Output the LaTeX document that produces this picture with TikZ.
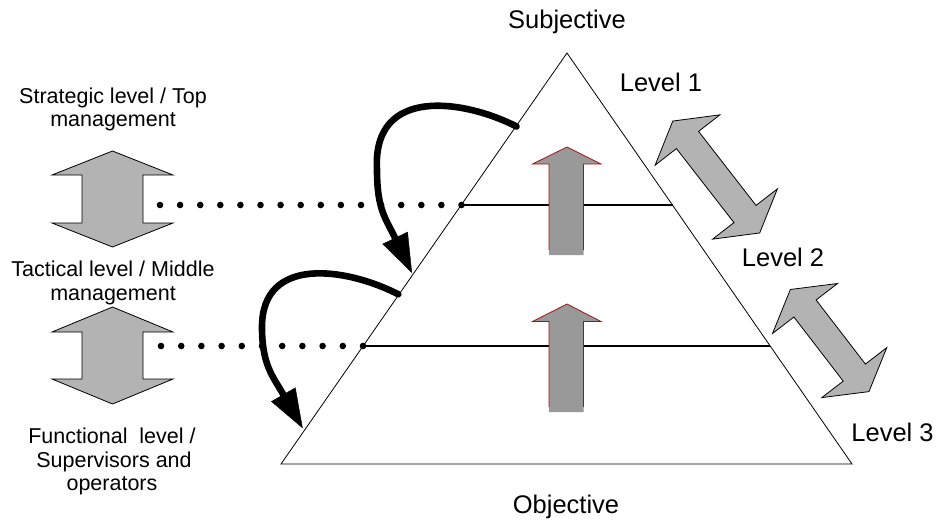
\documentclass[tikz,border=0pt]{standalone}
\usepackage{fontspec}
\setmainfont{Liberation Sans}
\usetikzlibrary{calc,arrows.meta}
\definecolor{lgray}{RGB}{179,179,179}
\definecolor{mgray}{RGB}{153,153,153}
\definecolor{dred}{RGB}{160,20,20}
\tikzset{
  lefttxt/.style={font=\fontsize{21.5}{24}\selectfont, anchor=base, inner sep=0pt},
  lvltxt/.style={font=\fontsize{25.5}{28}\selectfont, anchor=base, inner sep=0pt},
  tri/.style={draw=black, line width=0.8pt, line join=miter},
  hline/.style={draw=black, line width=1.3pt},
  dotmark/.style={fill=black},
  sidearrow/.style={fill=lgray, draw=black, line width=0.8pt, line join=miter},
  diagarrow/.style={fill=lgray, draw=black, line width=0.8pt, line join=miter},
  uparrowfill/.style={fill=mgray},
  uparrowline/.style={draw=dred, line width=0.8pt, line join=miter},
  curvearrow/.style={draw=black, line width=6.6pt, line cap=round,
    -{Triangle[length=39pt,width=28pt,line width=0.4pt]}}
}
\newcommand\mydiag[3]{% #1 = base 1, #2 = base 2, #3 = tip length
  \filldraw[diagarrow]
    ($(#1)!-#3!(#2)$) -- ($(#1)!41pt!90:(#2)$) -- ($(#1)!14pt!90:(#2)$)
    -- ($(#2)!14pt!-90:(#1)$) -- ($(#2)!41pt!-90:(#1)$) -- ($(#2)!-#3!(#1)$)
    -- ($(#2)!41pt!90:(#1)$) -- ($(#2)!14pt!90:(#1)$)
    -- ($(#1)!14pt!-90:(#2)$) -- ($(#1)!41pt!-90:(#2)$) -- cycle;}
\begin{document}
\begin{tikzpicture}[x=1pt,y=-1pt]
\useasboundingbox (0,0) rectangle (937,522);

% triangle corners and level lines
\coordinate (A) at (567,53);
\coordinate (BL) at (281,464);
\coordinate (BR) at (852,464);
\coordinate (L1) at (461.5,205);
\coordinate (R1) at (672.5,205);
\coordinate (L2) at (363,346);
\coordinate (R2) at (770,346);

\draw[tri] (A) -- (BL) -- (BR) -- cycle;
\draw[hline] (L1) -- (R1);
\draw[hline] (L2) -- (R2);

% dotted guides
\foreach \i in {0,...,15} \fill[dotmark] ({160+\i*20.1},205) circle (3.3);
\foreach \i in {0,...,10} \fill[dotmark] ({161+\i*20.2},346) circle (3.3);

% left double arrows
\filldraw[sidearrow] (112.5,151) -- (173,175) -- (143,175) -- (143,223) -- (173,223)
  -- (112.5,247) -- (52,223) -- (82,223) -- (82,175) -- (52,175) -- cycle;
\filldraw[sidearrow] (112.5,307) -- (173,332) -- (143,332) -- (143,379) -- (173,379)
  -- (112.5,404) -- (52,379) -- (82,379) -- (82,332) -- (52,332) -- cycle;

% central upward arrows
\fill[uparrowfill] (567,147) -- (601,164) -- (583.5,164) -- (583.5,255) -- (549,255)
  -- (549,164) -- (532.5,164) -- cycle;
\draw[uparrowline] (549,250) -- (549,164) -- (532.5,164) -- (567,147) -- (601,164)
  -- (583.5,164) -- (583.5,250);
\fill[uparrowfill] (567,304) -- (601,321.5) -- (583.5,321.5) -- (583.5,412) -- (549,412)
  -- (549,321.5) -- (532.5,321.5) -- cycle;
\draw[uparrowline] (549,407) -- (549,321.5) -- (532.5,321.5) -- (567,304) -- (601,321.5)
  -- (583.5,321.5) -- (583.5,407);

% diagonal double arrows
\coordinate (DA1) at (687.5,140);
\coordinate (DA2) at (745,214);
\coordinate (DB1) at (805,308.5);
\coordinate (DB2) at (854.3,372.6);
\mydiag{DA1}{DA2}{24pt}
\mydiag{DB1}{DB2}{24pt}

% curved black arrows
\coordinate (S1) at (516.5,126.5);
\coordinate (P1) at (377,170);
\coordinate (E1) at (412,273);
\draw[curvearrow] (S1) .. controls (465,100) and (372,85) .. (P1)
  .. controls (377,210) and (386,219) .. (E1);
\coordinate (S2) at (398.3,294.3);
\coordinate (P2) at (262,327);
\coordinate (E2) at (302.7,428.3);
\draw[curvearrow] (S2) .. controls (346.8,267.8) and (262,255) .. (P2)
  .. controls (262,365) and (272.7,376) .. (E2);

% labels
\node[lvltxt] (subj) at (567,28.5) {Subjective};
\node[lvltxt] (obj) at (566,513) {Objective};
\node[lvltxt] (lv1) at (661,91.5) {Level 1};
\node[lvltxt] (lv2) at (783,266.5) {Level 2};
\node[lvltxt] (lv3) at (892.5,441) {Level 3};

\node[lefttxt] (t1a) at (113,103) {Strategic level / Top};
\node[lefttxt] (t1b) at (113,126.5) {management};
\node[lefttxt] (t2a) at (113,276.5) {Tactical level / Middle};
\node[lefttxt] (t2b) at (113,300) {management};
\node[lefttxt] (t3a) at (112,443.5) {Functional\ \ level /};
\node[lefttxt] (t3b) at (114,467) {Supervisors and};
\node[lefttxt] (t3c) at (112,490.5) {operators};
\end{tikzpicture}
\end{document}
